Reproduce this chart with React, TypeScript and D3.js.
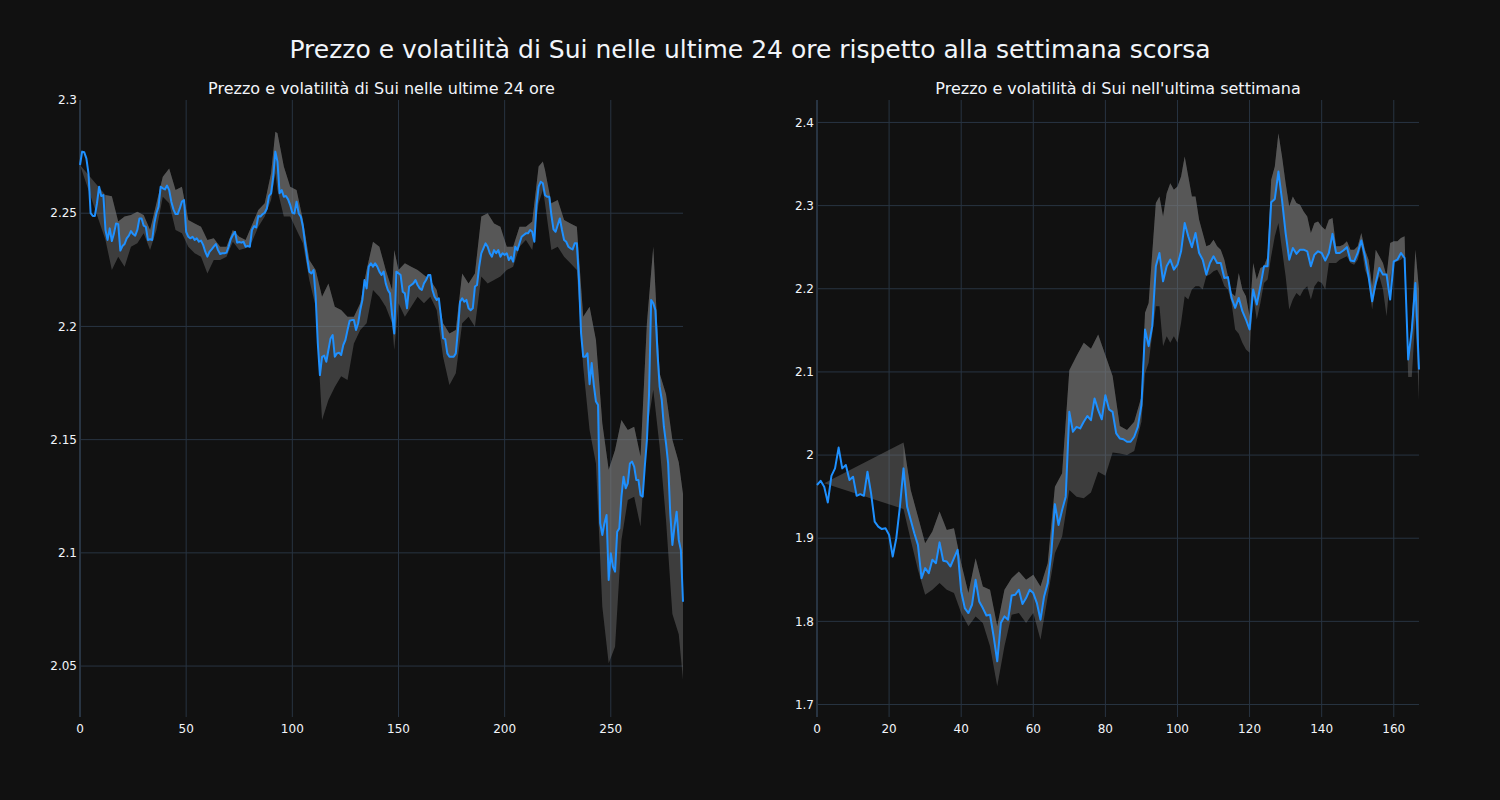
import React from 'react';
import * as d3 from 'd3';

// Sui price, last 24h (one point per 5 minutes)
const dayPrice = [
  2.2713, 2.2772, 2.2769, 2.2742, 2.2676, 2.25, 2.2488, 2.2488, 2.2544, 2.2617,
  2.2576, 2.258, 2.2426, 2.2382, 2.2433, 2.2377, 2.2411, 2.2455, 2.2452, 2.2335,
  2.2355, 2.2364, 2.2389, 2.2401, 2.2421, 2.2408, 2.2401, 2.2426, 2.2477, 2.2477,
  2.2445, 2.244, 2.2382, 2.2385, 2.2382, 2.2455, 2.25, 2.2529, 2.2617, 2.261,
  2.2605, 2.2622, 2.2602, 2.2551, 2.2517, 2.2496, 2.2496, 2.2521, 2.2551, 2.2558,
  2.2418, 2.2396, 2.2389, 2.2396, 2.2382, 2.2389, 2.2374, 2.2379, 2.236, 2.233,
  2.2308, 2.233, 2.234, 2.2352, 2.2364, 2.2337, 2.232, 2.2323, 2.2323, 2.2326,
  2.2352, 2.2385, 2.2404, 2.2418, 2.237, 2.2373, 2.237, 2.2374, 2.2352, 2.2355,
  2.2352, 2.2426, 2.2443, 2.2437, 2.2488, 2.2485, 2.2496, 2.2502, 2.2521, 2.2576,
  2.2588, 2.266, 2.2772, 2.2728, 2.2588, 2.2602, 2.2573, 2.2576, 2.2561, 2.2536,
  2.2502, 2.2499, 2.2551, 2.2499, 2.2485, 2.244, 2.2367, 2.2301, 2.2242, 2.2234,
  2.2249, 2.2131, 2.1925, 2.1785, 2.1866, 2.1871, 2.1844, 2.1896, 2.1947, 2.1962,
  2.1866, 2.1881, 2.1884, 2.1874, 2.1918, 2.194, 2.1984, 2.2025, 2.2028, 2.2028,
  2.1984, 2.2014, 2.2072, 2.2117, 2.2205, 2.2168, 2.2264, 2.2279, 2.2264, 2.2279,
  2.2264, 2.2242, 2.2227, 2.2242, 2.219, 2.2161, 2.2146, 2.205, 2.1969, 2.2242,
  2.2235, 2.2227, 2.2153, 2.2146, 2.208, 2.2176, 2.2183, 2.219, 2.2205, 2.2183,
  2.2168, 2.2161, 2.219, 2.2205, 2.2227, 2.2227, 2.2161, 2.2131, 2.2117, 2.2124,
  2.2043, 2.1947, 2.1944, 2.1881, 2.1866, 2.1866, 2.1866, 2.1881, 2.1984, 2.2109,
  2.2124, 2.2109, 2.2117, 2.208, 2.2072, 2.208, 2.2176, 2.2183, 2.2264, 2.2323,
  2.2345, 2.2367, 2.2352, 2.2323, 2.2308, 2.2337, 2.2323, 2.2337, 2.2308, 2.2323,
  2.2316, 2.2323, 2.2293, 2.2308, 2.2286, 2.2352, 2.2337, 2.2367, 2.2396, 2.2404,
  2.2411, 2.2411, 2.2426, 2.2418, 2.2374, 2.2536, 2.2617, 2.2639, 2.2632, 2.258,
  2.2573, 2.2573, 2.2492, 2.2429, 2.2418, 2.2448, 2.2477, 2.2426, 2.2382, 2.2374,
  2.2352, 2.2345, 2.234, 2.2367, 2.2367, 2.2205, 2.1969, 2.1866, 2.1866, 2.1881,
  2.1745, 2.1838, 2.1741, 2.1668, 2.1653, 2.1131, 2.1079, 2.1131, 2.1167, 2.088,
  2.0998, 2.0939, 2.0917, 2.1093, 2.1108, 2.1248, 2.1336, 2.1285, 2.1307, 2.1395,
  2.1403, 2.1381, 2.1322, 2.1322, 2.1255, 2.1248, 2.1381, 2.1498, 2.17, 2.2117,
  2.2102, 2.2072, 2.1881, 2.1734, 2.1675, 2.1557, 2.1484, 2.1395, 2.1174, 2.1035,
  2.1116, 2.1182, 2.1057, 2.1012, 2.0784,
];

// volatility band, last 24h
const dayBandX = [
  0, 12, 15, 18, 21, 24, 27, 30, 33, 36, 39, 42, 45, 48, 51, 54, 57, 60, 63, 66,
  69, 72, 75, 78, 81, 84, 87, 90, 92, 93, 96, 99, 102, 105, 108, 111, 114, 117, 120, 123,
  126, 129, 132, 135, 138, 141, 144, 147, 148, 150, 153, 156, 159, 162, 165, 168, 171, 174, 177, 180,
  183, 186, 189, 192, 195, 198, 201, 204, 207, 210, 213, 216, 218, 219, 222, 225, 228, 231, 234, 237,
  240, 243, 246, 249, 252, 255, 258, 261, 264, 267, 270, 273, 276, 279, 282, 284,
];
const dayUpper = [
  2.2713, 2.258, 2.2575, 2.2463, 2.2485, 2.2492, 2.2507, 2.2492, 2.2426, 2.2544,
  2.2661, 2.2698, 2.2602, 2.2617, 2.247, 2.2455, 2.244, 2.2382, 2.2389, 2.2352,
  2.2352, 2.2426, 2.2396, 2.2382, 2.2448, 2.2514, 2.2544, 2.2676, 2.286, 2.2853,
  2.2706, 2.2617, 2.2602, 2.247, 2.2293, 2.2249, 2.2131, 2.219, 2.2087, 2.2072,
  2.2043, 2.2043, 2.2102, 2.225, 2.2374, 2.2352, 2.2249, 2.2161, 2.2337, 2.2249,
  2.2279, 2.2264, 2.2249, 2.2227, 2.2205, 2.2161, 2.2014, 2.1969, 2.1984, 2.2234,
  2.219, 2.2234, 2.2485, 2.25, 2.2455, 2.244, 2.2352, 2.2352, 2.244, 2.244,
  2.2463, 2.2706, 2.2728, 2.2691, 2.2544, 2.2558, 2.247, 2.2455, 2.244, 2.2043,
  2.2087, 2.194, 2.1572, 2.1367, 2.1454, 2.1587, 2.1543, 2.1557, 2.1425, 2.2014,
  2.2352, 2.1793, 2.17, 2.15, 2.14, 2.126,
];
const dayLower = [
  2.2713, 2.2382, 2.2249, 2.2308, 2.2264, 2.2352, 2.2367, 2.2411, 2.2337, 2.2426,
  2.2573, 2.2544, 2.2426, 2.2411, 2.2352, 2.2323, 2.2308, 2.2234, 2.2293, 2.2293,
  2.2308, 2.2374, 2.2337, 2.2345, 2.2374, 2.244, 2.2485, 2.2558, 2.2676, 2.2602,
  2.2485, 2.2485, 2.2426, 2.2367, 2.2205, 2.2087, 2.1587, 2.1675, 2.1733, 2.178,
  2.1763, 2.1925, 2.1984, 2.2014, 2.2161, 2.2131, 2.2087, 2.2014, 2.1896, 2.2102,
  2.2043, 2.2087, 2.2131, 2.2102, 2.2131, 2.2072, 2.1866, 2.1741, 2.1793, 2.2014,
  2.2043, 2.1999, 2.222, 2.219, 2.2205, 2.222, 2.2249, 2.2264, 2.2352, 2.2382,
  2.2337, 2.2544, 2.2602, 2.2544, 2.2337, 2.2352, 2.2308, 2.2279, 2.2249, 2.1822,
  2.1543, 2.1395, 2.0762, 2.0512, 2.0585, 2.1057, 2.1233, 2.1248, 2.1116, 2.154,
  2.172, 2.1469, 2.1145, 2.073, 2.064, 2.044,
];

// Sui price, last week (one point per hour)
const weekPrice = [
  1.964, 1.969, 1.962, 1.943, 1.975, 1.984, 2.009, 1.984, 1.988, 1.97,
  1.974, 1.951, 1.953, 1.951, 1.98, 1.954, 1.92, 1.914, 1.911, 1.912,
  1.904, 1.878, 1.9, 1.938, 1.984, 1.938, 1.922, 1.906, 1.892, 1.852,
  1.864, 1.858, 1.874, 1.87, 1.895, 1.873, 1.872, 1.866, 1.876, 1.886,
  1.836, 1.816, 1.81, 1.82, 1.85, 1.824, 1.816, 1.807, 1.808, 1.782,
  1.752, 1.798, 1.806, 1.802, 1.831, 1.832, 1.838, 1.821, 1.828, 1.838,
  1.834, 1.822, 1.802, 1.83, 1.846, 1.882, 1.941, 1.916, 1.934, 1.95,
  2.052, 2.028, 2.034, 2.032, 2.04, 2.047, 2.042, 2.068, 2.054, 2.043,
  2.072, 2.055, 2.052, 2.026, 2.02, 2.019, 2.016, 2.016, 2.022, 2.034,
  2.06, 2.151, 2.131, 2.155, 2.227, 2.243, 2.209, 2.227, 2.235, 2.223,
  2.229, 2.245, 2.279, 2.263, 2.25, 2.267, 2.243, 2.235, 2.217, 2.231,
  2.239, 2.231, 2.231, 2.213, 2.214, 2.189, 2.177, 2.189, 2.173, 2.163,
  2.151, 2.199, 2.181, 2.203, 2.227, 2.227, 2.304, 2.308, 2.341, 2.307,
  2.267, 2.235, 2.249, 2.242, 2.247, 2.247, 2.245, 2.227, 2.241, 2.245,
  2.243, 2.234, 2.243, 2.266, 2.243, 2.243, 2.246, 2.25, 2.234, 2.233,
  2.243, 2.258, 2.239, 2.215, 2.185, 2.207, 2.225, 2.217, 2.217, 2.187,
  2.233, 2.235, 2.243, 2.237, 2.115, 2.15, 2.207, 2.103,
];

// volatility band, last week
const weekBandX = [
  2, 24, 26, 28, 30, 32, 34, 36, 38, 40, 42, 44, 46, 48, 50, 52, 54, 56, 58, 60,
  62, 64, 66, 68, 70, 72, 74, 76, 78, 80, 82, 84, 86, 88, 90, 91, 92, 94, 95, 96,
  97, 98, 99, 100, 101, 102, 103, 104, 105, 106, 107, 108, 109, 110, 111, 112, 113, 114, 115, 116,
  117, 118, 119, 120, 121, 122, 123, 124, 125, 126, 127, 128, 129, 130, 131, 132, 133, 134, 135, 136,
  137, 138, 139, 140, 141, 142, 143, 144, 145, 146, 147, 148, 149, 150, 151, 152, 153, 154, 155, 156,
  157, 158, 159, 160, 161, 162, 163, 164, 165, 166, 167,
];
const weekUpper = [
  1.966, 2.015, 1.958, 1.926, 1.894, 1.908, 1.932, 1.91, 1.912, 1.87,
  1.834, 1.876, 1.842, 1.838, 1.794, 1.838, 1.852, 1.86, 1.85, 1.856,
  1.842, 1.87, 1.962, 1.978, 2.102, 2.119, 2.135, 2.128, 2.145, 2.12,
  2.095, 2.035, 2.03, 2.04, 2.07, 2.171, 2.183, 2.303, 2.311, 2.287,
  2.315, 2.327, 2.319, 2.323, 2.335, 2.359, 2.335, 2.311, 2.311, 2.283,
  2.267, 2.251, 2.253, 2.259, 2.251, 2.247, 2.235, 2.215, 2.195, 2.191,
  2.219, 2.199, 2.191, 2.167, 2.231, 2.211, 2.225, 2.227, 2.239, 2.331,
  2.347, 2.387, 2.359, 2.327, 2.299, 2.311, 2.303, 2.301, 2.293, 2.287,
  2.267, 2.279, 2.281, 2.275, 2.271, 2.283, 2.285, 2.251, 2.251, 2.253,
  2.257, 2.247, 2.247, 2.251, 2.267, 2.247, 2.235, 2.203, 2.247, 2.239,
  2.231, 2.215, 2.255, 2.257, 2.257, 2.261, 2.263, 2.116, 2.159, 2.247,
  2.199,
];
const weekLower = [
  1.966, 1.935, 1.898, 1.862, 1.832, 1.838, 1.846, 1.838, 1.834, 1.81,
  1.794, 1.806, 1.798, 1.77, 1.722, 1.77, 1.808, 1.81, 1.798, 1.81,
  1.778, 1.83, 1.882, 1.902, 1.958, 1.95, 1.948, 1.955, 1.98, 1.975,
  2.003, 2.002, 2.0, 2.005, 2.04, 2.098, 2.111, 2.179, 2.179, 2.131,
  2.143, 2.135, 2.143, 2.135, 2.159, 2.191, 2.187, 2.199, 2.203, 2.203,
  2.199, 2.215, 2.217, 2.221, 2.223, 2.215, 2.203, 2.199, 2.183, 2.151,
  2.146, 2.135, 2.127, 2.123, 2.191, 2.163, 2.183, 2.207, 2.211, 2.239,
  2.263, 2.279, 2.247, 2.215, 2.175, 2.187, 2.195, 2.191, 2.199, 2.203,
  2.187, 2.203, 2.209, 2.207, 2.199, 2.231, 2.231, 2.231, 2.235, 2.237,
  2.239, 2.231, 2.229, 2.235, 2.251, 2.223, 2.211, 2.175, 2.203, 2.215,
  2.199, 2.167, 2.215, 2.231, 2.233, 2.235, 2.239, 2.094, 2.094, 2.167,
  2.066,
];

const dayTicksX = [0, 50, 100, 150, 200, 250];
const dayTicksY = [2.05, 2.1, 2.15, 2.2, 2.25, 2.3];
const weekTicksX = [0, 20, 40, 60, 80, 100, 120, 140, 160];
const weekTicksY = [1.7, 1.8, 1.9, 2, 2.1, 2.2, 2.3, 2.4];

const mainTitle = 'Prezzo e volatilità di Sui nelle ultime 24 ore rispetto alla settimana scorsa';
const dayTitle = 'Prezzo e volatilità di Sui nelle ultime 24 ore';
const weekTitle = "Prezzo e volatilità di Sui nell'ultima settimana";

const W = 1500;
const H = 800;
const TOP = 100;
const BOTTOM = 717;
const GRID = '#283442';
const TEXT = '#f2f5fa';
const FONT = '"DejaVu Sans", sans-serif';

type PanelProps = {
  title: string;
  price: number[];
  bandX: number[];
  upper: number[];
  lower: number[];
  ticksX: number[];
  ticksY: number[];
  yDomain: [number, number];
  left: number;
  right: number;
};

const fmt = (v: number) => String(+v.toFixed(2));

const Panel = ({ title, price, bandX, upper, lower, ticksX, ticksY, yDomain, left, right }: PanelProps) => {
  const x = d3.scaleLinear().domain([0, price.length - 1]).range([left, right]);
  const y = d3.scaleLinear().domain(yDomain).range([BOTTOM, TOP]);

  // whole band (darker tone)
  const bandPath = d3
    .area<number>()
    .x((_, i) => x(bandX[i]))
    .y0((_, i) => y(lower[i]))
    .y1((d) => y(d))(upper);

  // upper part of the band, down to the price (lighter tone)
  const start = bandX[1];
  const pts: [number, number][] = [];
  for (let i = 1; i < bandX.length; i++) pts.push([x(bandX[i]), y(upper[i])]);
  for (let i = price.length - 1; i >= start; i--) pts.push([x(i), y(price[i])]);
  const lightPath = d3.line()(pts) + 'Z';

  const linePath = d3
    .line<number>()
    .x((_, i) => x(i))
    .y((d) => y(d))(price);

  return (
    <g>
      {ticksY.filter((t) => y(t) > TOP + 1).map((t) => (
        <line key={'gy' + t} x1={left} x2={right} y1={y(t)} y2={y(t)} stroke={GRID} strokeWidth={1} />
      ))}
      {ticksX.filter((t) => t !== 0).map((t) => (
        <line key={'gx' + t} x1={x(t)} x2={x(t)} y1={TOP} y2={BOTTOM} stroke={GRID} strokeWidth={1} />
      ))}
      <line x1={x(0)} x2={x(0)} y1={TOP} y2={BOTTOM} stroke={GRID} strokeWidth={2} />

      <path d={bandPath ?? ''} fill="rgb(128,128,128)" fillOpacity={0.4} />
      <path d={lightPath} fill="rgb(128,128,128)" fillOpacity={0.4} />
      <path d={linePath ?? ''} fill="none" stroke="#1E90FF" strokeWidth={2} strokeLinejoin="round" />

      {ticksY.map((t) => (
        <text key={'ty' + t} x={left - 3} y={y(t)} dy="0.35em" textAnchor="end" fontSize={12} fill={TEXT} fontFamily={FONT}>
          {fmt(t)}
        </text>
      ))}
      {ticksX.map((t) => (
        <text key={'tx' + t} x={x(t)} y={733} textAnchor="middle" fontSize={12} fill={TEXT} fontFamily={FONT}>
          {t}
        </text>
      ))}
      <text x={(left + right) / 2} y={94} textAnchor="middle" fontSize={16} fill={TEXT} fontFamily={FONT}>
        {title}
      </text>
    </g>
  );
};

const App = () => {
  return (
    <svg width={W} height={H} style={{ position: 'absolute', left: 0, top: 0, display: 'block' }}>
      <rect width={W} height={H} fill="#111111" />
      <text x={W / 2} y={58} textAnchor="middle" fontSize={25} fill={TEXT} fontFamily={FONT}>
        {mainTitle}
      </text>
      <Panel
        title={dayTitle}
        price={dayPrice}
        bandX={dayBandX}
        upper={dayUpper}
        lower={dayLower}
        ticksX={dayTicksX}
        ticksY={dayTicksY}
        yDomain={[2.0275, 2.3]}
        left={80}
        right={683}
      />
      <Panel
        title={weekTitle}
        price={weekPrice}
        bandX={weekBandX}
        upper={weekUpper}
        lower={weekLower}
        ticksX={weekTicksX}
        ticksY={weekTicksY}
        yDomain={[1.685, 2.427]}
        left={817}
        right={1419}
      />
    </svg>
  );
};

export default App;
